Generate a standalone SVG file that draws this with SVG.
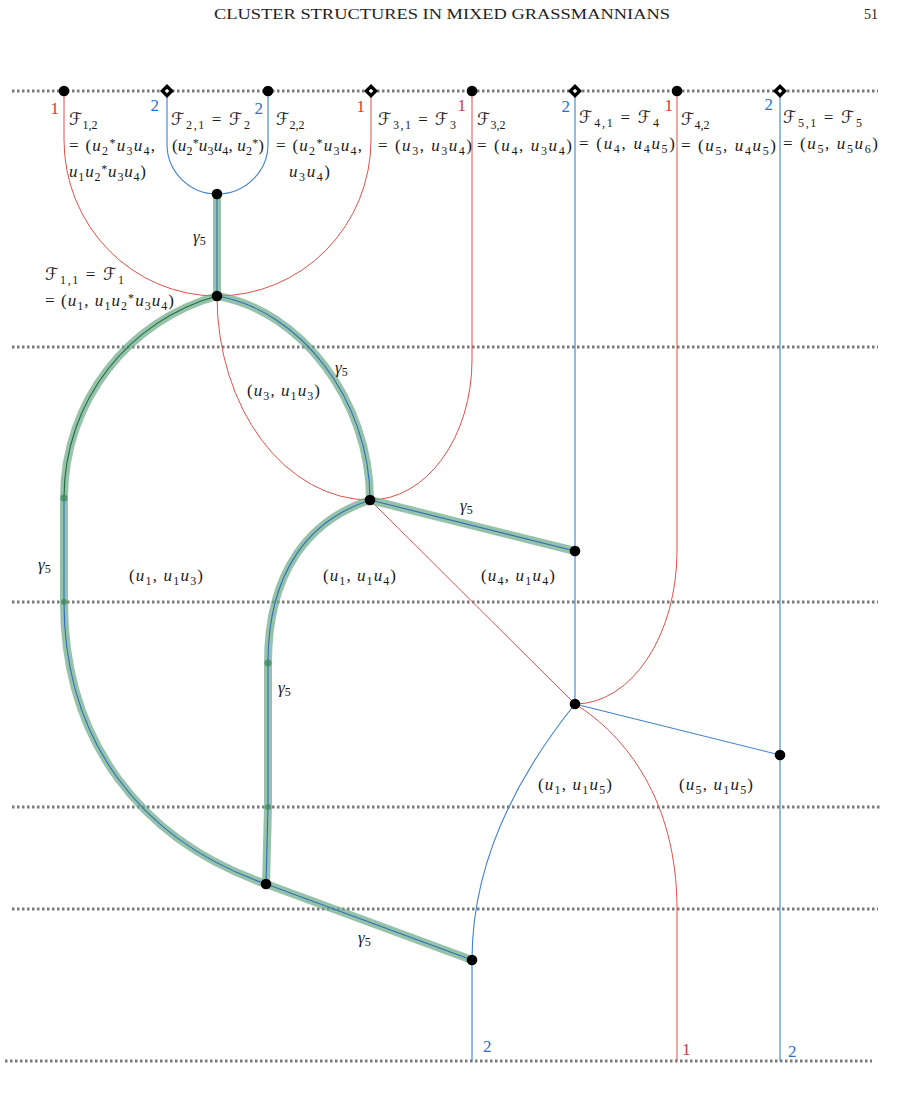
<svg xmlns="http://www.w3.org/2000/svg" width="915" height="1096" viewBox="0 0 915 1096">
<defs>
<style>
.bg{fill:#fff}
.dot{stroke:#7a7a7a;stroke-width:3;stroke-dasharray:2.5 2.5;fill:none}
.r{stroke:#e2504a;stroke-width:1;fill:none}
.b{stroke:#3f80d2;stroke-width:1.1;fill:none}
.hl{stroke:#6aa886;stroke-opacity:.7;stroke-width:8;fill:none;stroke-linecap:butt}
.ib{stroke:#2f6fb8;stroke-width:1.1;fill:none}
.ig{stroke:#1f6a3f;stroke-width:1.1;fill:none}
.jn{fill:#3c8a5c;fill-opacity:.75}
.nd{fill:#000}
.lb{font-family:"Liberation Serif","DejaVu Serif",serif;font-size:17px;fill:#1a1a1a}
.it{font-style:italic}
.sb{font-size:12px}
.F{font-family:"DejaVu Serif","DejaVu Sans",serif;font-size:17px}
.nr{font-family:"Liberation Serif",serif;font-size:17px;fill:#d93a34}
.nb{font-family:"Liberation Serif",serif;font-size:17px;fill:#2a6fcf}
.hd{font-family:"Liberation Serif",serif;font-size:14px;fill:#222}
</style>
<g id="diam"><polygon points="0,-7 7,0 0,7 -7,0" fill="#000"/><polygon points="0,-2.3 2.3,0 0,2.3 -2.3,0" fill="#fff"/></g>
</defs>
<rect class="bg" x="0" y="0" width="915" height="1096"/>

<g id="header">
<text class="hd" x="214" y="19" textLength="456" lengthAdjust="spacingAndGlyphs">CLUSTER STRUCTURES IN MIXED GRASSMANNIANS</text>
<text class="hd" x="878" y="19" text-anchor="end">51</text>
</g>

<g id="levels">
<line class="dot" x1="12" y1="91" x2="878" y2="91"/>
<line class="dot" x1="12" y1="347" x2="878" y2="347"/>
<line class="dot" x1="12" y1="602" x2="878" y2="602"/>
<line class="dot" x1="12" y1="807" x2="880" y2="807"/>
<line class="dot" x1="12" y1="909" x2="878" y2="909"/>
<line class="dot" x1="5" y1="1061" x2="872" y2="1061"/>
</g>

<g id="connectors">
<path class="r" d="M64,91 V140 A153,156 0 0 0 217,296"/>
<path class="r" d="M371,91 V140 A154,156 0 0 1 217,296"/>
<path class="r" d="M217,296 A153,204 0 0 0 370,500"/>
<path class="r" d="M472,91 V360 A102,140 0 0 1 370,500"/>
<line class="r" x1="370" y1="500" x2="575" y2="704"/>
<path class="r" d="M677,91 V551 A102,153 0 0 1 575,704"/>
<path class="r" d="M575,704 C625,735 677,800 677,909 V1061"/>
<path class="b" d="M167,91 V144 A50,50 0 0 0 217,194"/>
<path class="b" d="M268,91 V144 A51,50 0 0 1 217,194"/>
<line class="b" x1="575" y1="91" x2="575" y2="704"/>
<line class="b" x1="575" y1="704" x2="780" y2="755"/>
<line class="b" x1="780" y1="91" x2="780" y2="1061"/>
<path class="b" d="M575,704 C530,760 472,850 472,960 V1061"/>
<path class="hl" d="M217,194 V296"/>
<path class="hl" d="M217,296 C130,320 64,400 64,498 V602 C64,740 140,840 266,884"/>
<path class="hl" d="M217,296 C300,310 370,400 370,500"/>
<path class="hl" d="M370,500 L575,551"/>
<path class="hl" d="M370,500 C310,520 268,570 268,663 V807 L266,884"/>
<path class="hl" d="M266,884 L472,960"/>
<path class="ib" d="M217,194 V296"/>
<path class="ig" d="M217,296 C130,320 64,400 64,498"/>
<path class="ib" d="M64,498 V602 C64,740 140,840 266,884"/>
<path class="ib" d="M217,296 C300,310 370,400 370,500"/>
<path class="ib" d="M370,500 L575,551"/>
<path class="ib" d="M370,500 C310,520 268,570 268,663 V807 L266,884"/>
<path class="ib" d="M266,884 L472,960"/>
<circle class="jn" cx="64" cy="498" r="3.5"/>
<circle class="jn" cx="64" cy="602" r="3"/>
<circle class="jn" cx="268" cy="663" r="3.5"/>
<circle class="jn" cx="268" cy="807" r="3"/>
</g>

<g id="n-top1"><circle class="nd" cx="64" cy="91" r="5.3"/></g>
<g id="n-top2"><use href="#diam" x="167" y="91"/></g>
<g id="n-top3"><circle class="nd" cx="268" cy="91" r="5.3"/></g>
<g id="n-top4"><use href="#diam" x="371" y="91"/></g>
<g id="n-top5"><circle class="nd" cx="472" cy="91" r="5.3"/></g>
<g id="n-top6"><use href="#diam" x="575" y="91"/></g>
<g id="n-top7"><circle class="nd" cx="677" cy="91" r="5.3"/></g>
<g id="n-top8"><use href="#diam" x="780" y="91"/></g>
<g id="n-a"><circle class="nd" cx="217" cy="194" r="5.3"/></g>
<g id="n-b"><circle class="nd" cx="217" cy="296" r="5.3"/></g>
<g id="n-c"><circle class="nd" cx="370" cy="500" r="5.3"/></g>
<g id="n-d"><circle class="nd" cx="575" cy="551" r="5.3"/></g>
<g id="n-e"><circle class="nd" cx="575" cy="704" r="5.3"/></g>
<g id="n-f"><circle class="nd" cx="780" cy="755" r="5.3"/></g>
<g id="n-g"><circle class="nd" cx="266" cy="884" r="5.3"/></g>
<g id="n-h"><circle class="nd" cx="472" cy="960" r="5.3"/></g>

<g id="strand-labels">
<text class="nr" x="59" y="114" text-anchor="end">1</text>
<text class="nb" x="159" y="111" text-anchor="end">2</text>
<text class="nb" x="263" y="114" text-anchor="end">2</text>
<text class="nr" x="365" y="112" text-anchor="end">1</text>
<text class="nr" x="466" y="111" text-anchor="end">1</text>
<text class="nb" x="570" y="112" text-anchor="end">2</text>
<text class="nr" x="673" y="111" text-anchor="end">1</text>
<text class="nb" x="773" y="110" text-anchor="end">2</text>
<text class="nb" x="483" y="1052">2</text>
<text class="nr" x="682" y="1055">1</text>
<text class="nb" x="788" y="1057">2</text>
</g>

<g id="labels">
<text class="lb" x="69" y="125"><tspan class="F">ℱ</tspan><tspan class="sb" dy="4">1,2</tspan></text>
<text class="lb" x="69" y="151" textLength="86">= (<tspan class="it">u</tspan><tspan class="sb" dy="4">2</tspan><tspan class="sb" dy="-8">*</tspan><tspan class="it" dy="4">u</tspan><tspan class="sb" dy="4">3</tspan><tspan class="it" dy="-4">u</tspan><tspan class="sb" dy="4">4</tspan><tspan dy="-4">,</tspan></text>
<text class="lb" x="69" y="177" textLength="77"><tspan class="it">u</tspan><tspan class="sb" dy="4">1</tspan><tspan class="it" dy="-4">u</tspan><tspan class="sb" dy="4">2</tspan><tspan class="sb" dy="-8">*</tspan><tspan class="it" dy="4">u</tspan><tspan class="sb" dy="4">3</tspan><tspan class="it" dy="-4">u</tspan><tspan class="sb" dy="4">4</tspan><tspan dy="-4">)</tspan></text>
<text class="lb" x="171" y="125" textLength="79"><tspan class="F">ℱ</tspan><tspan class="sb" dy="4">2,1</tspan><tspan dy="-4"> = </tspan><tspan class="F">ℱ</tspan><tspan class="sb" dy="4">2</tspan></text>
<text class="lb" x="172" y="151" textLength="92">(<tspan class="it">u</tspan><tspan class="sb" dy="4">2</tspan><tspan class="sb" dy="-8">*</tspan><tspan class="it" dy="4">u</tspan><tspan class="sb" dy="4">3</tspan><tspan class="it" dy="-4">u</tspan><tspan class="sb" dy="4">4</tspan><tspan dy="-4">, </tspan><tspan class="it">u</tspan><tspan class="sb" dy="4">2</tspan><tspan class="sb" dy="-8">*</tspan><tspan dy="4">)</tspan></text>
<text class="lb" x="276" y="125"><tspan class="F">ℱ</tspan><tspan class="sb" dy="4">2,2</tspan></text>
<text class="lb" x="276" y="151" textLength="86">= (<tspan class="it">u</tspan><tspan class="sb" dy="4">2</tspan><tspan class="sb" dy="-8">*</tspan><tspan class="it" dy="4">u</tspan><tspan class="sb" dy="4">3</tspan><tspan class="it" dy="-4">u</tspan><tspan class="sb" dy="4">4</tspan><tspan dy="-4">,</tspan></text>
<text class="lb" x="289" y="177" textLength="41"><tspan class="it">u</tspan><tspan class="sb" dy="4">3</tspan><tspan class="it" dy="-4">u</tspan><tspan class="sb" dy="4">4</tspan><tspan dy="-4">)</tspan></text>
<text class="lb" x="378" y="125" textLength="78"><tspan class="F">ℱ</tspan><tspan class="sb" dy="4">3,1</tspan><tspan dy="-4"> = </tspan><tspan class="F">ℱ</tspan><tspan class="sb" dy="4">3</tspan></text>
<text class="lb" x="378" y="151" textLength="94">= (<tspan class="it">u</tspan><tspan class="sb" dy="4">3</tspan><tspan dy="-4">, </tspan><tspan class="it">u</tspan><tspan class="sb" dy="4">3</tspan><tspan class="it" dy="-4">u</tspan><tspan class="sb" dy="4">4</tspan><tspan dy="-4">)</tspan></text>
<text class="lb" x="477" y="125"><tspan class="F">ℱ</tspan><tspan class="sb" dy="4">3,2</tspan></text>
<text class="lb" x="477" y="151" textLength="95">= (<tspan class="it">u</tspan><tspan class="sb" dy="4">4</tspan><tspan dy="-4">, </tspan><tspan class="it">u</tspan><tspan class="sb" dy="4">3</tspan><tspan class="it" dy="-4">u</tspan><tspan class="sb" dy="4">4</tspan><tspan dy="-4">)</tspan></text>
<text class="lb" x="579" y="123" textLength="80"><tspan class="F">ℱ</tspan><tspan class="sb" dy="4">4,1</tspan><tspan dy="-4"> = </tspan><tspan class="F">ℱ</tspan><tspan class="sb" dy="4">4</tspan></text>
<text class="lb" x="579" y="149" textLength="96">= (<tspan class="it">u</tspan><tspan class="sb" dy="4">4</tspan><tspan dy="-4">, </tspan><tspan class="it">u</tspan><tspan class="sb" dy="4">4</tspan><tspan class="it" dy="-4">u</tspan><tspan class="sb" dy="4">5</tspan><tspan dy="-4">)</tspan></text>
<text class="lb" x="681" y="125"><tspan class="F">ℱ</tspan><tspan class="sb" dy="4">4,2</tspan></text>
<text class="lb" x="681" y="151" textLength="95">= (<tspan class="it">u</tspan><tspan class="sb" dy="4">5</tspan><tspan dy="-4">, </tspan><tspan class="it">u</tspan><tspan class="sb" dy="4">4</tspan><tspan class="it" dy="-4">u</tspan><tspan class="sb" dy="4">5</tspan><tspan dy="-4">)</tspan></text>
<text class="lb" x="783" y="123" textLength="79"><tspan class="F">ℱ</tspan><tspan class="sb" dy="4">5,1</tspan><tspan dy="-4"> = </tspan><tspan class="F">ℱ</tspan><tspan class="sb" dy="4">5</tspan></text>
<text class="lb" x="783" y="149" textLength="95">= (<tspan class="it">u</tspan><tspan class="sb" dy="4">5</tspan><tspan dy="-4">, </tspan><tspan class="it">u</tspan><tspan class="sb" dy="4">5</tspan><tspan class="it" dy="-4">u</tspan><tspan class="sb" dy="4">6</tspan><tspan dy="-4">)</tspan></text>
<text class="lb" x="45" y="280" textLength="79"><tspan class="F">ℱ</tspan><tspan class="sb" dy="4">1,1</tspan><tspan dy="-4"> = </tspan><tspan class="F">ℱ</tspan><tspan class="sb" dy="4">1</tspan></text>
<text class="lb" x="45" y="306" textLength="129">= (<tspan class="it">u</tspan><tspan class="sb" dy="4">1</tspan><tspan dy="-4">, </tspan><tspan class="it">u</tspan><tspan class="sb" dy="4">1</tspan><tspan class="it" dy="-4">u</tspan><tspan class="sb" dy="4">2</tspan><tspan class="sb" dy="-8">*</tspan><tspan class="it" dy="4">u</tspan><tspan class="sb" dy="4">3</tspan><tspan class="it" dy="-4">u</tspan><tspan class="sb" dy="4">4</tspan><tspan dy="-4">)</tspan></text>
<text class="lb" x="193" y="242"><tspan class="it">γ</tspan><tspan class="sb" dy="3">5</tspan></text>
<text class="lb" x="335" y="373"><tspan class="it">γ</tspan><tspan class="sb" dy="3">5</tspan></text>
<text class="lb" x="460" y="511"><tspan class="it">γ</tspan><tspan class="sb" dy="3">5</tspan></text>
<text class="lb" x="38" y="570"><tspan class="it">γ</tspan><tspan class="sb" dy="3">5</tspan></text>
<text class="lb" x="278" y="693"><tspan class="it">γ</tspan><tspan class="sb" dy="3">5</tspan></text>
<text class="lb" x="358" y="943"><tspan class="it">γ</tspan><tspan class="sb" dy="3">5</tspan></text>
<text class="lb" x="247" y="396" textLength="73">(<tspan class="it">u</tspan><tspan class="sb" dy="4">3</tspan><tspan dy="-4">, </tspan><tspan class="it">u</tspan><tspan class="sb" dy="4">1</tspan><tspan class="it" dy="-4">u</tspan><tspan class="sb" dy="4">3</tspan><tspan dy="-4">)</tspan></text>
<text class="lb" x="129" y="581" textLength="74">(<tspan class="it">u</tspan><tspan class="sb" dy="4">1</tspan><tspan dy="-4">, </tspan><tspan class="it">u</tspan><tspan class="sb" dy="4">1</tspan><tspan class="it" dy="-4">u</tspan><tspan class="sb" dy="4">3</tspan><tspan dy="-4">)</tspan></text>
<text class="lb" x="323" y="581" textLength="73">(<tspan class="it">u</tspan><tspan class="sb" dy="4">1</tspan><tspan dy="-4">, </tspan><tspan class="it">u</tspan><tspan class="sb" dy="4">1</tspan><tspan class="it" dy="-4">u</tspan><tspan class="sb" dy="4">4</tspan><tspan dy="-4">)</tspan></text>
<text class="lb" x="481" y="581" textLength="74">(<tspan class="it">u</tspan><tspan class="sb" dy="4">4</tspan><tspan dy="-4">, </tspan><tspan class="it">u</tspan><tspan class="sb" dy="4">1</tspan><tspan class="it" dy="-4">u</tspan><tspan class="sb" dy="4">4</tspan><tspan dy="-4">)</tspan></text>
<text class="lb" x="538" y="790" textLength="74">(<tspan class="it">u</tspan><tspan class="sb" dy="4">1</tspan><tspan dy="-4">, </tspan><tspan class="it">u</tspan><tspan class="sb" dy="4">1</tspan><tspan class="it" dy="-4">u</tspan><tspan class="sb" dy="4">5</tspan><tspan dy="-4">)</tspan></text>
<text class="lb" x="679" y="790" textLength="74">(<tspan class="it">u</tspan><tspan class="sb" dy="4">5</tspan><tspan dy="-4">, </tspan><tspan class="it">u</tspan><tspan class="sb" dy="4">1</tspan><tspan class="it" dy="-4">u</tspan><tspan class="sb" dy="4">5</tspan><tspan dy="-4">)</tspan></text>
</g>
</svg>
